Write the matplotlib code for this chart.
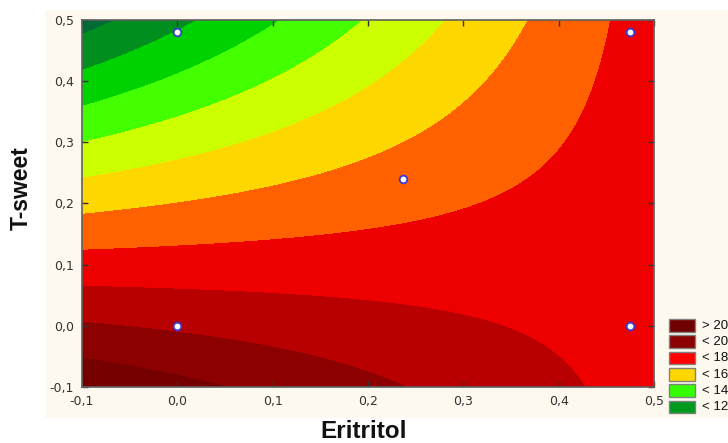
import numpy as np
import matplotlib
matplotlib.use("Agg")
import matplotlib.pyplot as plt
from matplotlib.patches import Rectangle

# ---- data ----
# design points (marked with dots) and their response values
eritritol = [0.0, 0.475, 0.237, 0.0, 0.475]
t_sweet = [0.48, 0.48, 0.24, 0.0, 0.0]
response = [12.03, 17.25, 16.46, 18.85, 17.66]

# contour levels and fill colours (lowest region first)
levels = [11, 12, 13, 14, 15, 16, 17, 18, 19, 20]
region_colors = ["#006b35", "#008e1e", "#00d200", "#44ff00", "#ccff00",
                 "#ffd700", "#ff6000", "#ee0000", "#b80000", "#8c0000",
                 "#760000"]

legend_labels = ["> 20", "< 20", "< 18", "< 16", "< 14", "< 12"]
legend_colors = ["#700000", "#8b0000", "#ff0000", "#ffd700", "#33ff00", "#009a1f"]

ticks = [-0.1, 0.0, 0.1, 0.2, 0.3, 0.4, 0.5]
tick_labels = ["-0,1", "0,0", "0,1", "0,2", "0,3", "0,4", "0,5"]

# ---- response surface fitted to the design points (z = b0 + b1 x + b2 y + b3 xy) ----
xd = np.array(eritritol)
yd = np.array(t_sweet)
A = np.column_stack([np.ones_like(xd), xd, yd, xd * yd])
coef, *_ = np.linalg.lstsq(A, np.array(response), rcond=None)

gx = np.linspace(ticks[0], ticks[-1], 400)
gy = np.linspace(ticks[0], ticks[-1], 400)
X, Y = np.meshgrid(gx, gy)
Z = coef[0] + coef[1] * X + coef[2] * Y + coef[3] * X * Y

W, H = 728, 443
fig = plt.figure(figsize=(W / 100, H / 100), dpi=100)
fig.patch.set_facecolor("white")

# cream panel
fig.add_artist(Rectangle((45 / W, 1 - 418 / H), (W - 45) / W, 408 / H,
                         facecolor="#fdf9ef", edgecolor="none", zorder=-5,
                         transform=fig.transFigure))

ax = fig.add_axes([82 / W, 1 - 387 / H, 572 / W, 367 / H])
ax.contourf(X, Y, Z, levels=[-100] + levels + [100], colors=region_colors)
ax.plot(eritritol, t_sweet, linestyle="none", marker="o", markersize=5.5,
        markerfacecolor="white", markeredgecolor="#3a3ad0", markeredgewidth=1.3)

ax.set_xlim(ticks[0], ticks[-1])
ax.set_ylim(ticks[0], ticks[-1])
ax.set_xticks(ticks)
ax.set_xticklabels(tick_labels)
ax.set_yticks(ticks)
ax.set_yticklabels(tick_labels)
ax.tick_params(direction="in", top=True, right=True, length=4, width=1,
               color="#333333", labelcolor="#333333", labelsize=9, pad=6)
for lab in ax.get_xticklabels() + ax.get_yticklabels():
    lab.set_family("DejaVu Sans")
for sp in ax.spines.values():
    sp.set_color("#606060")
    sp.set_linewidth(1.2)

fig.text(364 / W, 1 - 432 / H, "Eritritol", ha="center", va="center",
         fontsize=17.5, fontweight="bold", family="Liberation Sans", color="#111111")
fig.text(21 / W, 1 - 188 / H, "T-sweet", ha="center", va="center", rotation=90,
         fontsize=16.5, fontweight="bold", family="Liberation Sans", color="#111111")

# legend
for i, (lab, col) in enumerate(zip(legend_labels, legend_colors)):
    top = 319 + i * 16.3
    fig.add_artist(Rectangle((669 / W, 1 - (top + 12.7) / H), 26 / W, 12.7 / H,
                             facecolor=col, edgecolor="#808080", linewidth=1,
                             transform=fig.transFigure))
    fig.text(702 / W, 1 - (top + 6.6) / H, lab, ha="left", va="center",
             fontsize=9.5, family="Liberation Sans", color="#111111")

fig.savefig("out.png", dpi=100)
